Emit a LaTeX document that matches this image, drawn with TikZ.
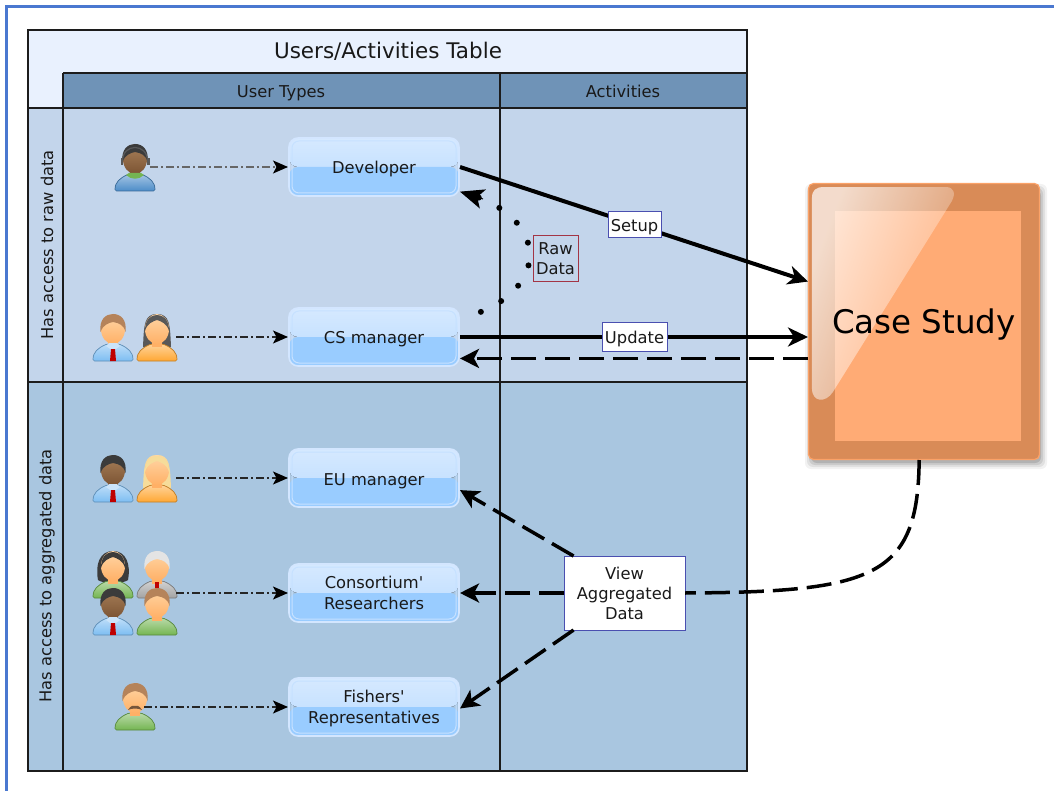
\documentclass[tikz,border=0pt]{standalone}
\usepackage{fontspec}
\setmainfont{DejaVu Sans}
\newfontfamily\plainfont{DejaVu Sans}
\usetikzlibrary{arrows.meta,calc,fadings}
\definecolor{frameblue}{HTML}{4A78D0}
\definecolor{bandlight}{HTML}{E9F1FE}
\definecolor{headblue}{HTML}{6F93B7}
\definecolor{rowone}{HTML}{C3D5EB}
\definecolor{rowtwo}{HTML}{A9C6E0}
\definecolor{gridline}{HTML}{1C1C1C}
\definecolor{caseout}{HTML}{D98B57}
\definecolor{caseedge}{HTML}{FBA268}
\definecolor{casein}{HTML}{FFAB75}
\definecolor{labelblue}{HTML}{4A4FB0}
\definecolor{labelred}{HTML}{A33545}
\definecolor{shirtblue}{HTML}{7DBDF2}
\definecolor{hoodblue}{HTML}{4C8CC8}
\definecolor{shirtorange}{HTML}{FFA733}
\definecolor{shirtgreen}{HTML}{74B552}
\definecolor{shirtgrey}{HTML}{A3A3A3}
\definecolor{skinlighttop}{HTML}{FFD6A6}
\definecolor{skinlightbot}{HTML}{FFB066}
\definecolor{skindarktop}{HTML}{A8805A}
\definecolor{skindarkbot}{HTML}{7C5433}
\definecolor{hairblack}{HTML}{3B3B3B}
\definecolor{hairbrown}{HTML}{B5835A}
\definecolor{hairblond}{HTML}{F6DC9A}
\definecolor{hairgrey}{HTML}{E4E4E4}
\definecolor{lowerblue}{HTML}{99CCFF}
\definecolor{uppertop}{HTML}{D6E9FF}
\definecolor{upperbot}{HTML}{B9DBFF}
\definecolor{boxedge}{HTML}{D3E6FF}
\definecolor{boxinner}{HTML}{C6E1FF}
\tikzfading[name=glossfade,left color=transparent!30,right color=transparent!90]
\newcommand\onerule{\rule[-4pt]{0pt}{22pt}}
\newcommand\toprule{\rule{0pt}{15pt}}
\newcommand\botrule{\rule[-4pt]{0pt}{4pt}}
\newcommand\hairshort[1]{\fill[#1] (-12.5,-29) .. controls (-14,-42) and (-7,-47) .. (0,-47) .. controls (8,-47) and (14,-41) .. (12.5,-29) .. controls (11,-36) and (6,-38) .. (0,-39) .. controls (-5,-38) and (-10,-36) .. (-12.5,-29) -- cycle;}
\newcommand\hairlongback[1]{\fill[#1] (-14,-14) .. controls (-13,-36) and (-13,-47) .. (0,-47) .. controls (13,-47) and (13,-36) .. (14,-14) -- cycle;}
\newcommand\hairfringe[1]{\fill[#1] (-12,-30) .. controls (-12,-42) and (-6,-46) .. (0,-46) .. controls (6,-46) and (12,-42) .. (12,-30) .. controls (10,-38) and (3,-40) .. (0,-41) .. controls (-3,-40) and (-10,-38) .. (-12,-30) -- cycle;}
\newcommand\hairbobback[1]{\fill[#1] (-15,-18) .. controls (-18,-34) and (-13,-47) .. (0,-47) .. controls (13,-47) and (18,-34) .. (15,-18) .. controls (10,-14) and (-10,-14) .. (-15,-18) -- cycle;}
\newcommand\tieshape{\fill[white!60!shirtblue] (-7,-15) -- (0,-10) -- (7,-15) -- (4,-18) -- (-4,-18) -- cycle; \fill[red!75!black] (-2,-12) -- (2,-12) -- (3,0) -- (-3,0) -- cycle;}
\newcommand\moustache{\fill[hairbrown!65!black] (-7,-20) .. controls (-4,-25) and (-1,-25) .. (0,-24) .. controls (1,-25) and (4,-25) .. (7,-20) .. controls (3,-22) and (-3,-22) .. (-7,-20) -- cycle;}
\newcommand\headset{\draw[gray!70!black,line width=1.2] (-12.5,-30) .. controls (-12.5,-48) and (12.5,-48) .. (12.5,-30); \fill[gray!70!black] (-14.5,-33) rectangle (-12,-26); \fill[gray!70!black] (12,-33) rectangle (14.5,-26); \fill[shirtgreen] (-9,-16) .. controls (-4,-11) and (4,-11) .. (9,-16) -- (6,-18) -- (-6,-18) -- cycle;}
\tikzset{
  x=1pt,y=-1pt,
  tablefont/.style={font=\fontsize{16.3}{20}\selectfont,text=black!90},
  boxfont/.style={font=\fontsize{16.3}{21}\selectfont,text=black!90},
  titlefont/.style={font=\fontsize{21.5}{25}\selectfont,text=black!90},
  gridrule/.style={gridline,line width=1.5},
  userbox/.style={boxfont,align=center,minimum width=170,minimum height=58,inner sep=0,outer sep=1,
    rounded corners=9,draw=boxedge,line width=1.6,
    path picture={
      \fill[top color=uppertop,bottom color=upperbot] (path picture bounding box.north west) rectangle (path picture bounding box.east);
      \fill[lowerblue] (path picture bounding box.west) rectangle (path picture bounding box.south east);
      \draw[boxinner,line width=1,rounded corners=7] ($(path picture bounding box.north west)+(3,3)$) rectangle ($(path picture bounding box.south east)+(-3,-3)$);
    }},
  casebox/.style={draw=caseedge,fill=caseout,line width=1.2,rounded corners=5,minimum width=231,minimum height=276,inner sep=0,outer sep=0.5},
  flowlabel/.style={tablefont,fill=white,draw=labelblue,line width=1,inner sep=0,outer sep=0,align=center},
  rawlabel/.style={tablefont,draw=labelred,line width=1,inner sep=0,outer sep=0,align=center,minimum width=45,minimum height=46},
  actorline/.style={black!85,line width=1.2,dash pattern=on 8pt off 3pt on 2pt off 3pt,-{Stealth[black,inset=3.5pt,length=15pt,width=13pt,sep=0pt]}},
  solidflow/.style={black,line width=4,-{Stealth[inset=6pt,length=20pt,width=19pt]}},
  dashflow/.style={black,line width=3.5,dash pattern=on 25pt off 9pt,-{Stealth[inset=5pt,length=19pt,width=19pt]}},
  dashplain/.style={black,line width=3.5,dash pattern=on 25pt off 9pt},
  dotflow/.style={black,line width=6,line cap=round,dash pattern=on 0pt off 23pt,dash phase=1pt},
  tipflow/.style={black,line width=1,-{Stealth[inset=6pt,length=24pt,width=20pt]}},
  pics/figure/.style n args={5}{code={
    #4
    \draw[#1!75!black,line width=.7,top color=#1!50!white,bottom color=#1,rounded corners=1.5]
      (-20,0) .. controls (-20,-9) and (-15,-13) .. (-6,-17) -- (6,-17) .. controls (15,-13) and (20,-9) .. (20,0) -- cycle;
    \fill[#3] (-5,-20) rectangle (5,-14);
    \shade[top color=#2,bottom color=#3] (0,-32) ellipse [x radius=12,y radius=15];
    #5
  }},
}
\begin{document}
\begin{tikzpicture}
\useasboundingbox (0,0) rectangle (1054,791);
\fill[white] (0,0) rectangle (1054,791);
\draw[frameblue,line width=3] (6,791) -- (6,7) -- (1054,7);
% table
\fill[bandlight] (28,30) rectangle (747,108);
\fill[headblue] (63,73) rectangle (747,108);
\fill[rowone] (28,108) rectangle (747,382);
\fill[rowtwo] (28,382) rectangle (747,771);
\draw[gridrule] (28,30) rectangle (747,771);
\draw[gridrule] (63,73) -- (747,73);
\draw[gridrule] (28,108) -- (747,108);
\draw[gridrule] (28,382) -- (747,382);
\draw[gridrule] (63,73) -- (63,771);
\draw[gridrule] (500,73) -- (500,771);
\node[titlefont] (tabletitle) at (388,52) {\rule[-5pt]{0pt}{24pt}Users/Activities Table};
\node[tablefont] (headusers) at (281,91) {\onerule User Types};
\node[tablefont] (headacts) at (623,91) {\onerule Activities};
\node[tablefont,rotate=90] (siderawdata) at (47,245) {Has access to raw data};
\node[tablefont,rotate=90] (sideaggdata) at (47,576) {Has access to aggregated data};
% people
\pic (pdev) at (135,191) {figure={hoodblue}{skindarktop}{skindarkbot}{}{\hairshort{hairblack}\headset}};
\pic (pcsa) at (113,361) {figure={shirtblue}{skinlighttop}{skinlightbot}{}{\hairshort{hairbrown}\tieshape}};
\pic (pcsb) at (157,361) {figure={shirtorange}{skinlighttop}{skinlightbot}{\hairlongback{hairblack!85}}{\hairfringe{hairblack!85}}};
\pic (peua) at (113,502) {figure={shirtblue}{skindarktop}{skindarkbot}{}{\hairshort{hairblack}\tieshape}};
\pic (peub) at (157,502) {figure={shirtorange}{skinlighttop}{skinlightbot}{\hairlongback{hairblond}}{\hairfringe{hairblond}}};
\pic (pcoa) at (113,598) {figure={shirtgreen}{skinlighttop}{skinlightbot}{\hairbobback{hairblack}}{\hairfringe{hairblack}}};
\pic (pcob) at (157,598) {figure={shirtgrey}{skinlighttop}{skinlightbot}{}{\hairshort{hairgrey}\fill[red!75!black] (-2,-16) -- (2,-16) -- (2,-9) -- (-2,-9) -- cycle;}};
\pic (pcoc) at (113,635) {figure={shirtblue}{skindarktop}{skindarkbot}{}{\hairshort{hairblack}\tieshape}};
\pic (pcod) at (157,635) {figure={shirtgreen}{skinlighttop}{skinlightbot}{}{\hairshort{hairbrown}}};
\pic (pfis) at (135,730) {figure={shirtgreen}{skinlighttop}{skinlightbot}{}{\hairshort{hairbrown}\moustache}};
\coordinate (adev) at (150,167);
\coordinate (acsm) at (176,337);
\coordinate (aeum) at (176,478);
\coordinate (acon) at (176,593);
\coordinate (afis) at (144,707);
% role boxes
\node[userbox] (dev) at (374,167) {\onerule Developer};
\node[userbox] (csm) at (374,337) {\onerule CS manager};
\node[userbox] (eum) at (374,478) {\onerule EU manager};
\node[userbox] (cons) at (374,593) {\toprule Consortium{\plainfont '}\\\botrule Researchers};
\node[userbox] (fish) at (374,707) {\toprule Fishers{\plainfont '}\\\botrule Representatives};
% case study
\foreach \s/\o in {6/.05,4/.07,2/.09,0/.12}{
  \fill[black,opacity=\o,rounded corners=6] (811-\s,190-\s) rectangle (1041+\s,463+\s);
}
\node[casebox] (case) at (924,321.5) {};
\fill[casein] (835,211) rectangle (1021,441);
\fill[white,path fading=glossfade,fading angle=-30] (812,198) .. controls (812,190) and (816,187) .. (824,187) -- (946,187) .. controls (954,187) and (956,193) .. (952,201) -- (833,392) .. controls (826,403) and (812,403) .. (812,388) -- cycle;
\node[font=\fontsize{32.5}{38}\selectfont,text=black] (casetext) at (924,324) {\rule[-8pt]{0pt}{36pt}Case Study};
% actor arrows
\draw[actorline,black!60] (adev) -- (dev.west);
\draw[actorline] (acsm) -- (csm.west);
\draw[actorline] (aeum) -- (eum.west);
\draw[actorline] (acon) -- (cons.west);
\draw[actorline] (afis) -- (fish.west);
% connectors first, labels on top
\coordinate (setupat) at (634.5,225);
\coordinate (updateat) at (634.5,337);
\coordinate (rawtail) at (483,199);
\draw[solidflow] (dev.east) -- (case.161);
\draw[solidflow] (csm.east) -- (csm.east -| case.west);
\draw[dashflow] (csm.-14 -| case.west) -- (csm.-14);
\draw[dotflow] (csm.12) .. controls (553,295) and (553,215) .. (dev.-16);
\draw[tipflow] (rawtail) -- (dev.-16);
\node[flowlabel,minimum width=53,minimum height=26] (setup) at (setupat) {\onerule Setup};
\node[flowlabel,minimum width=65,minimum height=28] (update) at (updateat) {\onerule Update};
\node[rawlabel] (raw) at (555.5,259) {\toprule Raw\\\botrule Data};
\node[flowlabel,minimum width=121,minimum height=74] (view) at (624.5,593) {View\\Aggregated\\Data};
\draw[dashflow] (view.144) -- (eum.-8);
\draw[dashflow] (view.west) -- (cons.east);
\draw[dashflow] (view.216) -- (fish.-1);
\draw[dashplain] (case.268) .. controls (918,577) and (875,592) .. (view.east);
\end{tikzpicture}
\end{document}
